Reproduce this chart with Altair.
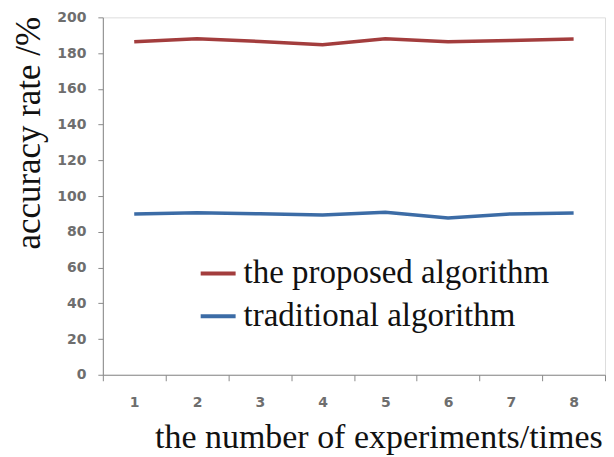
import altair as alt
import pandas as pd

experiments = ["1", "2", "3", "4", "5", "6", "7", "8"]
proposed = [186.4, 188.0, 186.5, 184.7, 188.0, 186.4, 187.1, 187.9]
traditional = [90.0, 90.7, 90.1, 89.4, 90.9, 87.7, 90.0, 90.5]
series_names = ["the proposed algorithm", "traditional algorithm"]
series_colors = ["#A33D3D", "#3C6CA6"]
y_ticks = list(range(0, 201, 20))

rows = []
for i, e in enumerate(experiments):
    rows.append({"exp": e, "value": proposed[i], "series": series_names[0]})
    rows.append({"exp": e, "value": traditional[i], "series": series_names[1]})
df = pd.DataFrame(rows)

W, H = 503, 358

chart = alt.Chart(df).mark_line(strokeWidth=3.5).encode(
    x=alt.X("exp:O", sort=experiments,
            scale=alt.Scale(type="band", paddingInner=0, paddingOuter=0),
            axis=alt.Axis(title="the number of experiments/times", tickBand="extent",
                          labelAngle=0, labelPadding=15,
                          labelFont="DejaVu Sans", labelFontSize=14, labelFontWeight="bold",
                          labelColor="#6e6e6e", tickColor="#8a8a8a", domainColor="#8a8a8a",
                          tickSize=6, titleFont="Liberation Serif", titleFontSize=34,
                          titleFontWeight="normal", titleColor="#111111",
                          titleX=276, titleY=73, titleBaseline="alphabetic", grid=False)),
    y=alt.Y("value:Q", scale=alt.Scale(domain=[0, 200], nice=False),
            axis=alt.Axis(title="accuracy rate /%", values=y_ticks,
                          labelFont="DejaVu Sans", labelFontSize=14, labelFontWeight="bold",
                          labelColor="#6e6e6e", labelPadding=12, tickColor="#8a8a8a",
                          domainColor="#8a8a8a", tickSize=5,
                          titleFont="Liberation Serif", titleFontSize=35,
                          titleFontWeight="normal", titleColor="#111111",
                          titleX=-63, titleY=-1, titleAlign="right", titleBaseline="alphabetic",
                          grid=False)),
    color=alt.Color("series:N", sort=series_names,
                    scale=alt.Scale(domain=series_names, range=series_colors),
                    legend=alt.Legend(title=None, orient="none", legendX=96, legendY=237,
                                      symbolType="stroke", symbolStrokeWidth=4,
                                      symbolSize=1225, labelFont="Liberation Serif",
                                      labelFontSize=33, labelColor="#111111",
                                      labelOffset=6, rowPadding=6, labelLimit=500)),
).properties(width=W, height=H, padding={"left": 3, "top": 2, "right": 0, "bottom": 0}
).configure_view(stroke=None).configure(background="white")

chart.save("out.html", embed_options={"renderer": "svg", "actions": False})
